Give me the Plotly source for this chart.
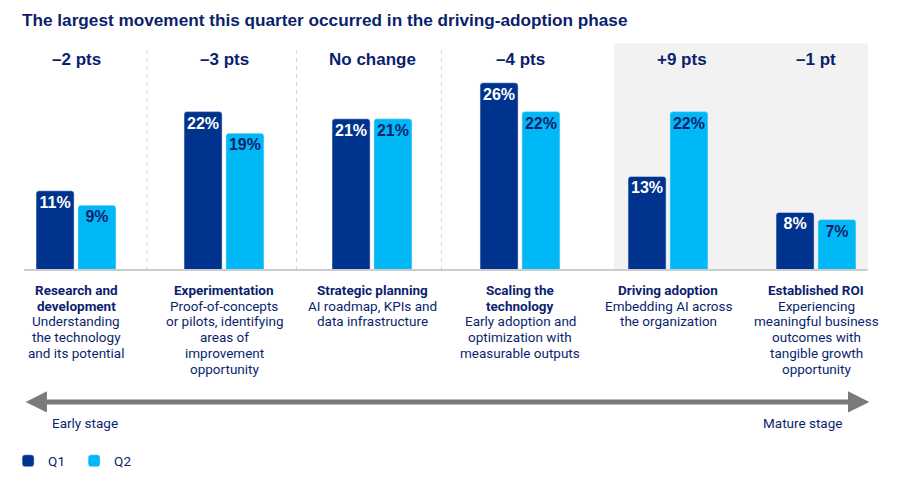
import plotly.graph_objects as go

# stage data
stages = ["Research and development", "Experimentation", "Strategic planning",
          "Scaling the technology", "Driving adoption", "Established ROI"]
q1 = [11, 22, 21, 26, 13, 8]
q2 = [9, 19, 21, 22, 22, 7]
changes = ["–2 pts", "–3 pts", "No change", "–4 pts", "+9 pts", "–1 pt"]
stage_titles = [
    ["Research and", "development"],
    ["Experimentation"],
    ["Strategic planning"],
    ["Scaling the", "technology"],
    ["Driving adoption"],
    ["Established ROI"],
]
stage_descs = [
    ["Understanding", "the technology", "and its potential"],
    ["Proof-of-concepts", "or pilots, identifying", "areas of", "improvement", "opportunity"],
    ["AI roadmap, KPIs and", "data infrastructure"],
    ["Early adoption and", "optimization with", "measurable outputs"],
    ["Embedding AI across", "the organization"],
    ["Experiencing", "meaningful business", "outcomes with", "tangible growth", "opportunity"],
]

NAVY = "#00338D"
LIGHT = "#00B8F5"
TEXT = "#0c1f6e"
FONT = "Roboto"

x = list(range(len(stages)))

fig = go.Figure()

fig.add_trace(go.Bar(
    x=x, y=q1, name="Q1",
    marker=dict(color=NAVY, cornerradius=3),
    width=0.257, offset=-0.27,
    text=[f"{v}%" for v in q1],
    textposition="inside", insidetextanchor="end", textangle=0,
    textfont=dict(color="white", size=16, family="Liberation Sans", weight="bold"),
    hoverinfo="skip",
))
fig.add_trace(go.Bar(
    x=x, y=q2, name="Q2",
    marker=dict(color=LIGHT, cornerradius=3),
    width=0.257, offset=0.013,
    text=[f"{v}%" for v in q2],
    textposition="inside", insidetextanchor="end", textangle=0,
    textfont=dict(color=TEXT, size=16, family="Liberation Sans", weight="bold"),
    hoverinfo="skip",
))

shapes = []
# gray highlight behind the last two stages
shapes.append(dict(type="rect", xref="x", yref="y", x0=3.635, x1=5.35, y0=0, y1=31.5,
                   fillcolor="#f2f2f2", line_width=0, layer="below"))
# dashed separators
for sx in [0.48, 1.49, 2.47]:
    shapes.append(dict(type="line", xref="x", yref="y", x0=sx, x1=sx, y0=0, y1=30.5,
                       line=dict(color="#d6d6d6", width=1, dash="4px,4px"), layer="below"))
# baseline
shapes.append(dict(type="line", xref="x", yref="y", x0=-0.35, x1=5.35, y0=0, y1=0,
                   line=dict(color="#cccccc", width=2)))

annotations = []
annotations.append(dict(
    text="<b>The largest movement this quarter occurred in the driving-adoption phase</b>",
    xref="paper", yref="paper", x=20 / 900, y=1 - 20 / 484, xanchor="left", yanchor="middle",
    showarrow=False, font=dict(family="Liberation Sans", size=17.2, color=TEXT)))

for i, c in enumerate(changes):
    annotations.append(dict(
        text=f"<b>{c}</b>", x=i, y=29.2, xref="x", yref="y",
        xshift=14 if i == 4 else 0,
        showarrow=False, font=dict(family="Liberation Sans", size=17, color=TEXT)))

# stage descriptions, one line at a time
LINE = 15.7
for i in x:
    lines = [f"<b>{t}</b>" for t in stage_titles[i]] + stage_descs[i]
    for k, ln in enumerate(lines):
        annotations.append(dict(
            text=ln, x=i, y=0, yshift=-20 - k * LINE, xref="x", yref="y",
            xanchor="center", yanchor="middle",
            showarrow=False, font=dict(family=FONT, size=13.5, color=TEXT)))

# early -> mature stage arrow
annotations.append(dict(
    x=5.36, y=-18.33, ax=-0.35, ay=-18.33, xref="x", yref="y", axref="x", ayref="y",
    text="", showarrow=True, arrowhead=2, arrowside="end+start",
    arrowsize=0.85, arrowwidth=5, arrowcolor="#7a7a7a"))
shapes.append(dict(type="line", xref="x", yref="y", x0=-0.25, x1=5.26, y0=-18.33, y1=-18.33,
                   line=dict(color="#a8a8a8", width=1.2), layer="above"))
annotations.append(dict(
    text="Early stage", x=85 / 900, y=1 - 423 / 484, xref="paper", yref="paper",
    xanchor="center", yanchor="middle",
    showarrow=False, font=dict(family=FONT, size=13.5, color=TEXT)))
annotations.append(dict(
    text="Mature stage", x=802 / 900, y=1 - 423 / 484, xref="paper", yref="paper",
    xanchor="center", yanchor="middle",
    showarrow=False, font=dict(family=FONT, size=13.5, color=TEXT)))

fig.update_layout(
    width=900, height=484,
    margin=dict(l=0, r=0, t=0, b=0),
    plot_bgcolor="white", paper_bgcolor="white",
    barmode="overlay",
    showlegend=True,
    legend=dict(orientation="h", x=0.009, y=1 - 461 / 484, xanchor="left", yanchor="middle",
                font=dict(family=FONT, size=13.5, color=TEXT), entrywidth=21,
                entrywidthmode="pixels", bgcolor="rgba(0,0,0,0)"),
    xaxis=dict(range=[-76 / 148, 824 / 148], visible=False, fixedrange=True),
    yaxis=dict(range=[-214 / 7.2, 270 / 7.2], visible=False, fixedrange=True),
    shapes=shapes,
    annotations=annotations,
)

fig.write_html("out.html", config={"displayModeBar": False},
               post_script="document.body.style.margin='0';")
